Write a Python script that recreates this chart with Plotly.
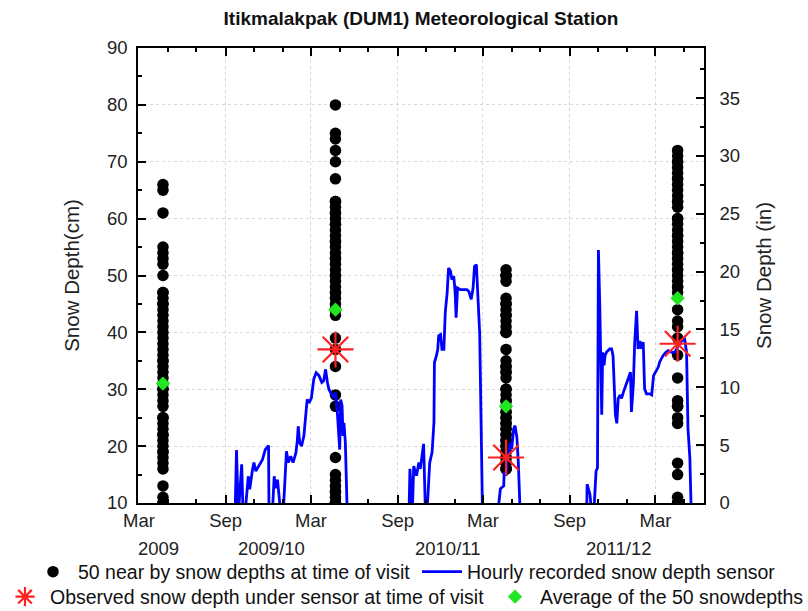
import plotly.graph_objects as go

# ---------------- data ----------------
visit_dates = ["2009-04-21", "2010-04-22", "2011-04-19", "2012-04-17"]

dots_2009 = [66, 65, 61, 55, 54, 53, 52, 50, 47, 46, 45, 44, 43, 41, 40, 39, 38, 36,
             35, 34, 33, 32, 31, 30, 29, 28, 25, 24, 23, 22, 21, 20, 19, 18, 17, 16,
             13, 11, 10, 10, 47, 45, 42, 37, 35, 30, 27, 25, 22, 19]
dots_2010 = [80, 75, 74, 72, 70, 67, 63, 62, 61, 60, 59, 58, 57, 56, 55, 54, 53, 52,
             51, 50, 49, 48, 47, 46, 45, 44, 43, 39, 37, 34, 29, 27, 18, 15, 14, 13,
             12, 11, 10, 63, 61, 59, 56, 53, 50, 47, 44, 10, 10, 12]
dots_2011 = [51, 50, 49, 46, 45, 44, 43, 42, 41, 40, 37, 35, 34, 33, 32, 30, 29, 28,
             27, 26, 25, 24, 23, 22, 21, 20, 19, 18, 17, 16, 50, 45, 43, 40, 34, 30,
             28, 25, 23, 21, 20, 19, 18, 17, 16, 16, 22, 24, 26, 33]
dots_2012 = [72, 71, 70, 69, 68, 67, 66, 65, 64, 63, 62, 60, 59, 58, 57, 56, 55, 54,
             53, 52, 51, 50, 49, 48, 47, 44, 42, 41, 39, 36, 32, 28, 27, 25, 24, 17,
             15, 11, 10, 70, 67, 63, 60, 57, 54, 51, 48, 10, 10, 27]

average_values = [31, 44, 27, 46]

observed_dates = ["2010-04-22", "2011-04-19", "2012-04-17"]
observed_values = [37, 18, 38]

sensor_2009_10_dates = [
    "2009-09-21", "2009-09-24", "2009-09-28", "2009-10-05", "2009-10-08", "2009-10-12",
    "2009-10-19", "2009-10-22", "2009-10-28", "2009-10-31", "2009-11-04", "2009-11-11",
    "2009-11-18", "2009-11-24", "2009-12-01", "2009-12-02", "2009-12-09", "2009-12-13",
    "2009-12-16", "2009-12-20", "2009-12-23", "2009-12-27", "2010-01-01", "2010-01-05",
    "2010-01-08", "2010-01-12", "2010-01-17", "2010-01-22", "2010-01-28", "2010-01-31",
    "2010-02-02", "2010-02-05", "2010-02-09", "2010-02-14", "2010-02-21", "2010-02-25",
    "2010-03-02", "2010-03-07", "2010-03-12", "2010-03-18", "2010-03-24", "2010-03-28",
    "2010-04-01", "2010-04-05", "2010-04-08", "2010-04-12", "2010-04-19", "2010-04-22",
    "2010-04-26", "2010-05-01", "2010-05-03", "2010-05-06", "2010-05-08", "2010-05-10",
    "2010-05-13", "2010-05-17"]
sensor_2009_10_cm = [
    8, 19.3, 8, 16.8, 8, 8,
    14.7, 12.4, 15.9, 17.1, 15.6, 16.5,
    17.6, 19.4, 20.1, 8, 8, 14.7,
    12.6, 14.1, 11.2, 8, 8, 14.7,
    19.1, 17.1, 18.2, 17.1, 18.8, 20.9,
    23.5, 20.6, 20.0, 21.8, 28.2, 27.6,
    28.5, 31.8, 32.9, 32.4, 31.2, 31.5,
    33.5, 31.2, 30.0, 29.4, 28.5, 29.4,
    25.9, 19.4, 28.2, 27.1, 21.8, 24.1,
    20.6, 8]

sensor_2010_11_dates = [
    "2010-09-25", "2010-09-27", "2010-10-02", "2010-10-05", "2010-10-11", "2010-10-16",
    "2010-10-19", "2010-10-23", "2010-10-26", "2010-10-30", "2010-11-02", "2010-11-08",
    "2010-11-13", "2010-11-17", "2010-11-18", "2010-11-22", "2010-11-25", "2010-11-27",
    "2010-12-01", "2010-12-04", "2010-12-08", "2010-12-11", "2010-12-15", "2010-12-18",
    "2010-12-22", "2010-12-25", "2010-12-29", "2011-01-01", "2011-01-03", "2011-01-06",
    "2011-01-12", "2011-01-19", "2011-01-26", "2011-01-30", "2011-02-04", "2011-02-08",
    "2011-02-11", "2011-02-15", "2011-02-18", "2011-02-22", "2011-02-25", "2011-02-28",
    "2011-04-01", "2011-04-07", "2011-04-14", "2011-04-15", "2011-04-19", "2011-04-22",
    "2011-04-28", "2011-05-01", "2011-05-05", "2011-05-08", "2011-05-12", "2011-05-15",
    "2011-05-19"]
sensor_2010_11_cm = [
    8, 16.0, 8, 16.5, 14.8, 17.1,
    16.0, 18.3, 20.4, 8, 8, 17.1,
    18.9, 24.2, 34.7, 35.8, 37.0, 39.4,
    39.6, 37.0, 37.0, 43.5, 47.0, 51.3,
    50.8, 49.3, 49.9, 47.0, 42.6, 47.8,
    47.5, 47.5, 47.5, 47.2, 45.8, 47.8,
    51.6, 51.9, 47.0, 39.9, 24.2, 8,
    8, 12.5, 13.0, 15.4, 14.8, 17.7,
    20.6, 19.5, 23.0, 23.6, 21.5, 17.1,
    8]

sensor_2011_12_dates = [
    "2011-10-07", "2011-10-08", "2011-10-14", "2011-10-18", "2011-10-22", "2011-10-27",
    "2011-10-30", "2011-11-01", "2011-11-04", "2011-11-08", "2011-11-10", "2011-11-13",
    "2011-11-15", "2011-11-18", "2011-11-25", "2011-11-29", "2011-12-02", "2011-12-05",
    "2011-12-07", "2011-12-10", "2011-12-13", "2011-12-17", "2011-12-20", "2011-12-24",
    "2011-12-31", "2012-01-05", "2012-01-08", "2012-01-10", "2012-01-14", "2012-01-17",
    "2012-01-21", "2012-01-24", "2012-01-28", "2012-01-31", "2012-02-04", "2012-02-07",
    "2012-02-11", "2012-02-18", "2012-02-22", "2012-02-26", "2012-03-02", "2012-03-07",
    "2012-03-10", "2012-03-17", "2012-03-23", "2012-03-28", "2012-04-04", "2012-04-11",
    "2012-04-18", "2012-04-25", "2012-05-02", "2012-05-06", "2012-05-09", "2012-05-13",
    "2012-05-16"]
sensor_2011_12_cm = [
    8, 13.3, 11.5, 8, 8, 15.6,
    16.2, 54.5, 44.1, 25.5, 36.5, 34.2,
    35.9, 36.5, 37.1, 37.1, 35.9, 30.1,
    25.5, 24.0, 28.4, 29.0, 28.4, 29.5,
    31.3, 32.4, 33.0, 26.0, 30.7, 38.3,
    43.8, 37.1, 38.5, 37.1, 38.3, 30.1,
    29.2, 29.2, 29.0, 32.4, 33.3, 33.9,
    34.8, 35.9, 36.5, 36.8, 36.5, 36.5,
    37.5, 38.5, 38.8, 36.5, 23.1, 17.9,
    8]

month_tick_dates = ["2009-03-01", "2009-09-01", "2010-03-01", "2010-09-01",
                    "2011-03-01", "2011-09-01", "2012-03-01"]
month_tick_labels = ["Mar", "Sep", "Mar", "Sep", "Mar", "Sep", "Mar"]

season_labels = ["2009", "2009/10", "2010/11", "2011/12"]
season_label_dates = ["2009-04-11", "2009-12-08", "2010-12-16", "2011-12-15"]

cm_ticks = [10, 20, 30, 40, 50, 60, 70, 80, 90]
in_ticks = [0, 5, 10, 15, 20, 25, 30, 35]

# ---------------- build ----------------
FONT = "Liberation Sans, Arial, sans-serif"
W, H = 808, 611

dot_x, dot_y = [], []
for d, vals in zip(visit_dates, [dots_2009, dots_2010, dots_2011, dots_2012]):
    dot_x += [d] * len(vals)
    dot_y += vals

sensor_x = sensor_2009_10_dates + [None] + sensor_2010_11_dates + [None] + sensor_2011_12_dates
sensor_y = sensor_2009_10_cm + [None] + sensor_2010_11_cm + [None] + sensor_2011_12_cm

fig = go.Figure()
fig.add_trace(go.Scatter(
    x=dot_x, y=dot_y, mode="markers",
    marker=dict(color="black", size=11.5),
    name="50 near by snow depths at time of visit", legend="legend"))
fig.add_trace(go.Scatter(
    x=sensor_x, y=sensor_y, mode="lines", connectgaps=False,
    line=dict(color="#0000ff", width=2.8),
    name="Hourly recorded snow depth sensor", legend="legend2"))
fig.add_trace(go.Scatter(
    x=visit_dates, y=average_values, mode="markers",
    marker=dict(symbol="diamond", size=11, color="#22e622"),
    name="Average of the 50 snowdepths", legend="legend4"))
fig.add_trace(go.Scatter(
    x=observed_dates, y=observed_values, mode="markers",
    marker=dict(symbol="asterisk-open", size=30, color="#ff2020",
                line=dict(color="#ff2020", width=2.2)),
    name="Observed snow depth under sensor at time of visit", legend="legend3"))
fig.add_trace(go.Scatter(x=[None], y=[None], yaxis="y2", showlegend=False, hoverinfo="skip"))

axis_common = dict(showline=True, linecolor="black", linewidth=1.5,
                   ticks="inside", tickcolor="black", tickwidth=1.5, ticklen=8,
                   tickfont=dict(size=18.5, color="#222", family=FONT), zeroline=False)
minor_common = dict(ticks="inside", ticklen=4, tickcolor="black", tickwidth=1.5, showgrid=False)
grid_common = dict(showgrid=True, gridcolor="#d8d8d8", griddash="dot", gridwidth=1)


def legend_at(px_x, px_y):
    return dict(orientation="h", x=px_x / W, xref="container", xanchor="left",
                y=1 - px_y / H, yref="container", yanchor="middle",
                bgcolor="rgba(0,0,0,0)", borderwidth=0,
                font=dict(size=19.5, color="#111", family=FONT), itemwidth=40)


fig.update_layout(
    width=W, height=H,
    margin=dict(l=138, r=104, t=48, b=108),
    paper_bgcolor="white", plot_bgcolor="white",
    font=dict(family=FONT, color="#222"),
    title=dict(text="<b>Itikmalakpak (DUM1) Meteorological Station</b>",
               x=0.5, xref="paper", xanchor="center",
               y=1 - 18 / H, yref="container", yanchor="middle",
               font=dict(size=19, color="#111", family=FONT)),
    xaxis=dict(type="date", range=["2009-02-27", "2012-06-12"],
               tickvals=month_tick_dates, ticktext=month_tick_labels,
               mirror="ticks", ticklabelstandoff=0,
               minor=dict(dtick="M2", tick0="2009-01-01", **minor_common),
               **grid_common, **axis_common),
    yaxis=dict(range=[10, 90], tickvals=cm_ticks,
               minor=dict(dtick=5, tick0=0, **minor_common),
               ticklabelstandoff=5,
               title=dict(text="Snow Depth(cm)", standoff=22,
                          font=dict(size=20.5, color="#222", family=FONT)),
               **grid_common, **axis_common),
    yaxis2=dict(overlaying="y", side="right", range=[0, 39.33], tickvals=in_ticks,
                showgrid=False,
                minor=dict(dtick=2.5, tick0=0, **minor_common),
                ticklabelstandoff=10,
                title=dict(text="Snow Depth (in)", standoff=18,
                           font=dict(size=20.5, color="#222", family=FONT)),
                **axis_common),
    legend=legend_at(28, 572),
    legend2=legend_at(417, 572),
    legend3=legend_at(0, 597),
    legend4=legend_at(490, 597),
    showlegend=True,
)

for lbl, d in zip(season_labels, season_label_dates):
    fig.add_annotation(x=d, xref="x", y=-(548 - 503) / 455, yref="paper",
                       text=lbl, showarrow=False, xanchor="center", yanchor="middle",
                       font=dict(size=18.5, color="#222", family=FONT))

fig.write_html("out.html")
